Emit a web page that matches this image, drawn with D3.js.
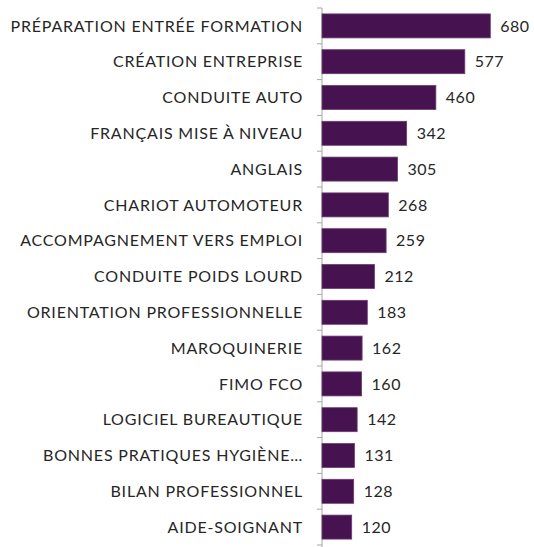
<!DOCTYPE html>
<html>
<head>
<meta charset="utf-8">
<script src="https://cdn.jsdelivr.net/npm/d3@7"></script>
<style>
  body { margin: 0; background: #fff; }
  svg { display: block; }
</style>
</head>
<body>
<svg></svg>
<script>
// formations, sorted by number of entries
const categories = [
  "PRÉPARATION ENTRÉE FORMATION",
  "CRÉATION ENTREPRISE",
  "CONDUITE AUTO",
  "FRANÇAIS MISE À NIVEAU",
  "ANGLAIS",
  "CHARIOT AUTOMOTEUR",
  "ACCOMPAGNEMENT VERS EMPLOI",
  "CONDUITE POIDS LOURD",
  "ORIENTATION PROFESSIONNELLE",
  "MAROQUINERIE",
  "FIMO FCO",
  "LOGICIEL BUREAUTIQUE",
  "BONNES PRATIQUES HYGIÈNE…",
  "BILAN PROFESSIONNEL",
  "AIDE-SOIGNANT"
];
const values = [680, 577, 460, 342, 305, 268, 259, 212, 183, 162, 160, 142, 131, 128, 120];

const width = 534, height = 547;
const margin = {top: 8, bottom: 0, left: 322, right: 14};

const svg = d3.select("svg")
    .attr("width", width)
    .attr("height", height);

const x = d3.scaleLinear()
    .domain([0, 800])
    .range([margin.left, margin.left + 198]);

const y = d3.scaleBand()
    .domain(categories)
    .range([margin.top, margin.top + 15 * 35.8])
    .paddingInner(0.33)
    .paddingOuter(0.165);

// category axis with ticks between bars
const axis = svg.append("g")
    .attr("transform", `translate(${margin.left},0)`);

axis.append("line")
    .attr("y1", y.range()[0])
    .attr("y2", y.range()[1] + 2)
    .attr("stroke", "#a6a6a6");

const step = y.step();
axis.selectAll("line.tick")
  .data(d3.range(categories.length + 1))
  .join("line")
    .attr("class", "tick")
    .attr("x1", -5)
    .attr("x2", 0)
    .attr("y1", i => y.range()[0] + i * step)
    .attr("y2", i => y.range()[0] + i * step)
    .attr("stroke", "#a6a6a6");

svg.selectAll("text.cat")
  .data(categories)
  .join("text")
    .attr("class", "cat")
    .attr("x", 303)
    .attr("y", d => y(d) + y.bandwidth() / 2)
    .attr("dy", "0.36em")
    .attr("text-anchor", "end")
    .attr("font-family", "Lato, sans-serif")
    .attr("font-size", 16)
    .attr("letter-spacing", 0.8)
    .attr("fill", "#262626")
    .text(d => d);

svg.selectAll("rect.bar")
  .data(values)
  .join("rect")
    .attr("class", "bar")
    .attr("x", x(0))
    .attr("y", (d, i) => y(categories[i]))
    .attr("width", d => x(d) - x(0))
    .attr("height", y.bandwidth())
    .attr("fill", "#461250")
    .attr("stroke", "#6a3d6e")
    .attr("stroke-width", 0.8);

svg.selectAll("text.val")
  .data(values)
  .join("text")
    .attr("class", "val")
    .attr("x", d => x(d) + 10)
    .attr("y", (d, i) => y(categories[i]) + y.bandwidth() / 2)
    .attr("dy", "0.36em")
    .attr("font-family", "Lato, sans-serif")
    .attr("font-size", 16)
    .attr("letter-spacing", 0.5)
    .attr("fill", "#262626")
    .text(d => d);
</script>
</body>
</html>
